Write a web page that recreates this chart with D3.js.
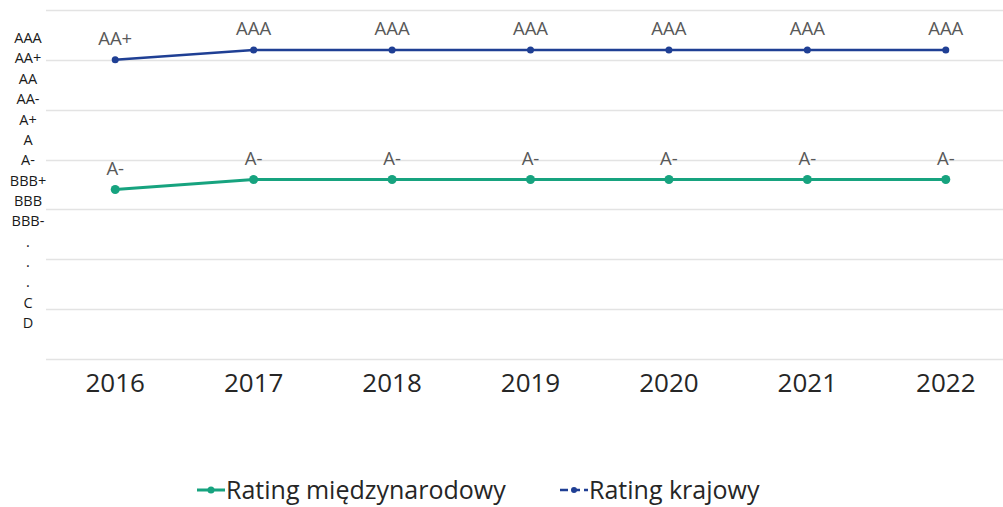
<!DOCTYPE html>
<html>
<head>
<meta charset="utf-8">
<script src="https://cdn.jsdelivr.net/npm/d3@7"></script>
<style>
  body { margin: 0; background: #fff; }
  svg { display: block; font-family: "Open Sans", sans-serif; }
</style>
</head>
<body>
<svg id="chart" width="1003" height="507"></svg>
<script>
// data
var years = ["2016", "2017", "2018", "2019", "2020", "2021", "2022"];
var krajowy = [30, 31, 31, 31, 31, 31, 31];
var krajowyLabels = ["AA+", "AAA", "AAA", "AAA", "AAA", "AAA", "AAA"];
var miedzy = [17, 18, 18, 18, 18, 18, 18];
var miedzyLabels = ["A-", "A-", "A-", "A-", "A-", "A-", "A-"];
var ratingScale = ["AAA", "AA+", "AA", "AA-", "A+", "A", "A-", "BBB+", "BBB", "BBB-", ".", ".", ".", "C", "D"];
var yTicks = [0, 5, 10, 15, 20, 25, 30, 35];

var blue = "#1f3f94";
var green = "#17a37f";

var svg = d3.select("#chart");

var x = d3.scaleBand().domain(years).range([46, 1015]);
var y = d3.scaleLinear().domain([0, 35]).range([359, 10]);

// gridlines
svg.append("g")
    .selectAll("line")
    .data(yTicks)
    .enter()
    .append("line")
    .attr("x1", 46)
    .attr("x2", 1003)
    .attr("y1", d => Math.round(y(d)) + 0.5)
    .attr("y2", d => Math.round(y(d)) + 0.5)
    .style("stroke", "#e3e3e3")
    .style("stroke-width", 1.5);

// x axis labels
var xAxis = svg.append("g")
    .attr("transform", "translate(0,370)")
    .call(d3.axisBottom(x).tickSize(0).tickPadding(0));
xAxis.select(".domain").remove();
xAxis.selectAll("text")
    .attr("dy", "0.85em")
    .style("font-size", "26px")
    .style("font-family", "Open Sans, sans-serif")
    .style("fill", "#262626");

// rating text column on the left
var r = d3.scalePoint().domain(d3.range(ratingScale.length)).range([38, 323]);
svg.append("g")
    .selectAll("text")
    .data(ratingScale)
    .enter()
    .append("text")
    .attr("x", 28)
    .attr("y", (d, i) => r(i))
    .attr("dy", "0.35em")
    .attr("text-anchor", "middle")
    .style("font-size", "14.5px")
    .style("fill", "#1a1a1a")
    .text(d => d);

function cx(d, i) { return x(years[i]) + x.bandwidth() / 2; }

function drawSeries(values, labels, color, width, radius) {
    var line = d3.line()
        .x((d, i) => cx(d, i))
        .y(d => y(d));

    svg.append("path")
        .datum(values)
        .attr("d", line)
        .style("fill", "none")
        .style("stroke", color)
        .style("stroke-width", width);

    svg.append("g")
        .selectAll("circle")
        .data(values)
        .enter()
        .append("circle")
        .attr("cx", cx)
        .attr("cy", d => y(d))
        .attr("r", radius)
        .style("fill", color);

    svg.append("g")
        .selectAll("text")
        .data(values)
        .enter()
        .append("text")
        .attr("x", cx)
        .attr("y", d => y(d) - 21)
        .attr("dy", "0.35em")
        .attr("text-anchor", "middle")
        .style("font-size", "18.5px")
        .style("fill", "#595959")
        .text((d, i) => labels[i]);
}

drawSeries(miedzy, miedzyLabels, green, 3, 4.5);
drawSeries(krajowy, krajowyLabels, blue, 2.5, 3.5);

// legend
var legend = [
    { name: "Rating międzynarodowy", color: green, x: 197, dash: null, r: 3.5, w: 3 },
    { name: "Rating krajowy", color: blue, x: 560, dash: "8,4", r: 3, w: 2.5 }
];
var lg = svg.append("g").selectAll("g")
    .data(legend)
    .enter()
    .append("g")
    .attr("transform", d => "translate(" + d.x + ",490)");
lg.append("line")
    .attr("x1", 0).attr("x2", 28)
    .style("stroke", d => d.color)
    .style("stroke-width", d => d.w)
    .style("stroke-dasharray", d => d.dash);
lg.append("circle")
    .attr("cx", 14)
    .attr("r", d => d.r)
    .style("fill", d => d.color);
lg.append("text")
    .attr("x", 29)
    .attr("dy", "0.35em")
    .style("font-size", "25px")
    .style("fill", "#262626")
    .text(d => d.name);
</script>
</body>
</html>
